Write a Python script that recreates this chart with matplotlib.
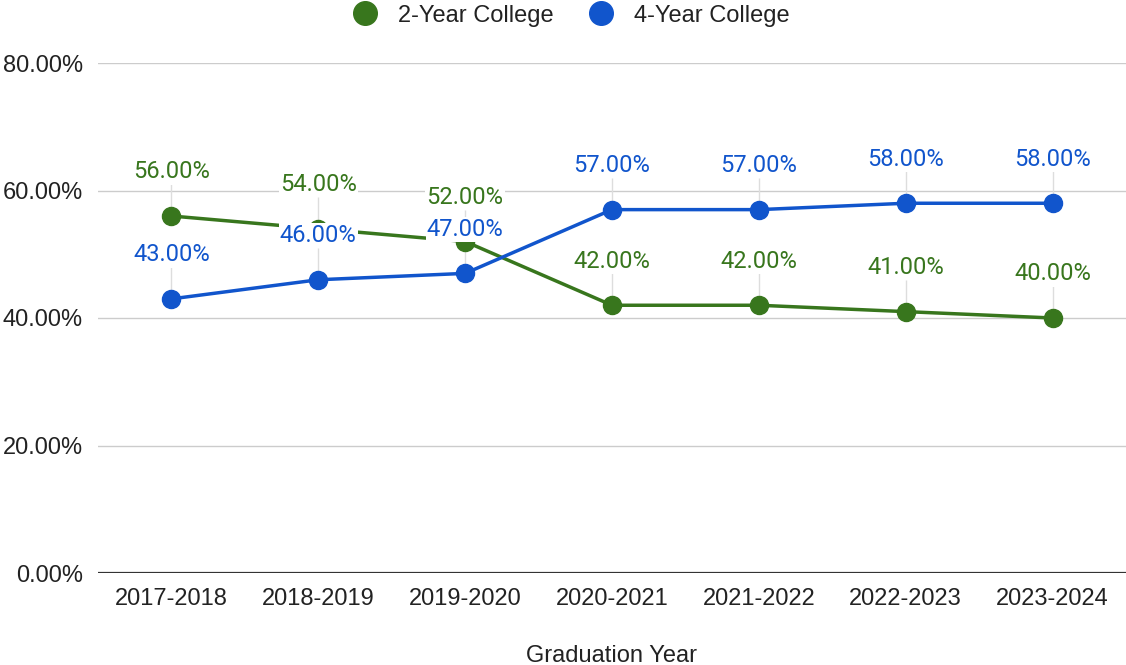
import matplotlib.pyplot as plt
from matplotlib.lines import Line2D

years = ["2017-2018", "2018-2019", "2019-2020", "2020-2021", "2021-2022", "2022-2023", "2023-2024"]
two_year = [56, 54, 52, 42, 42, 41, 40]
four_year = [43, 46, 47, 57, 57, 58, 58]
y_ticks = [0, 20, 40, 60, 80]

green = "#38761d"
blue = "#1155cc"

fig = plt.figure(figsize=(11.26, 6.65), dpi=100)
ax = fig.add_axes([98 / 1126, 1 - 573 / 665, 1 - 98 / 1126, 510 / 665])

x = list(range(len(years)))

# faint leader lines from point up to its label
for vals in (two_year, four_year):
    ax.vlines(x, vals, [v + 5.0 for v in vals], color="#dddddd", lw=1, zorder=1.5)

ax.plot(x, two_year, color=green, lw=2.5, marker="o", ms=13, zorder=3)
ax.plot(x, four_year, color=blue, lw=2.5, marker="o", ms=13, zorder=3)

for vals, c in ((two_year, green), (four_year, blue)):
    for xi, v in zip(x, vals):
        ax.annotate(f"{v:.2f}%", (xi, v), xytext=(0, 44), textcoords="offset pixels",
                    ha="center", va="center", color=c, fontsize=17, family="Roboto",
                    bbox=dict(boxstyle="square,pad=0.05", fc="white", ec="none"), zorder=5)

ax.set_xlim(-0.5, len(years) - 0.5)
ax.set_ylim(0, 80)
ax.set_xticks(x)
ax.set_xticklabels(years, family="Liberation Sans", fontsize=17, color="#222222")
ax.set_yticks(y_ticks)
ax.set_yticklabels([f"{t:.2f}%" for t in y_ticks], family="Liberation Sans", fontsize=17, color="#222222")
ax.tick_params(length=0)
ax.tick_params(axis="x", pad=11)
ax.tick_params(axis="y", pad=11)

ax.grid(axis="y", color="#cccccc", lw=1)
ax.set_axisbelow(True)
for s in ax.spines.values():
    s.set_visible(False)
ax.axhline(0, color="#333333", lw=1.6, zorder=2)

fig.text(612 / 1126, 1 - 656 / 665, "Graduation Year", family="Liberation Sans", fontsize=17,
         color="#222222", ha="center", va="center")

handles = [Line2D([], [], ls="none", marker="o", ms=17, color=green),
           Line2D([], [], ls="none", marker="o", ms=17, color=blue)]
fig.legend(handles, ["2-Year College", "4-Year College"], loc="upper center",
           bbox_to_anchor=(0.502, 1.025), ncol=2, frameon=False,
           prop={"family": "Liberation Sans", "size": 17}, handletextpad=0.4,
           columnspacing=1.0, labelcolor="#222222")

fig.savefig("out.png", dpi=100)
